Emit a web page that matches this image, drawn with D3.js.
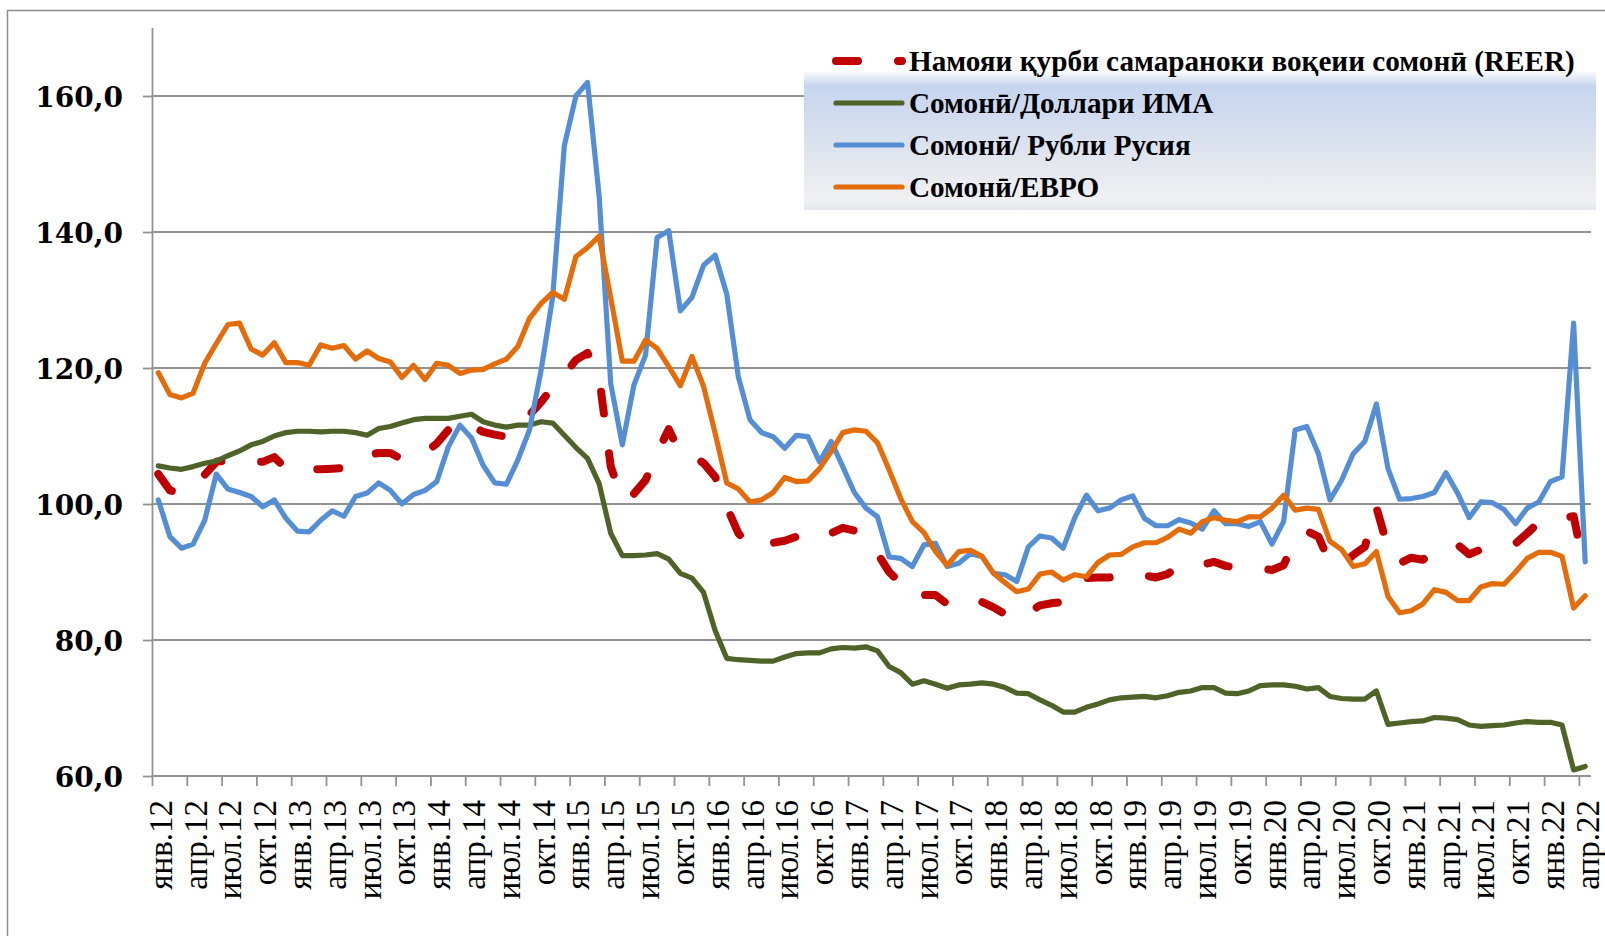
<!DOCTYPE html>
<html><head><meta charset="utf-8">
<script src="https://cdn.jsdelivr.net/npm/d3@7"></script>
<style>body{margin:0;background:#fff;overflow:hidden}svg{display:block}</style>
</head><body>
<svg id="chart" width="1605" height="936"></svg>
<script>
// ---- data ----
const monthNames = ["янв","фев","мар","апр","май","июн","июл","авг","сен","окт","ноя","дек"];
const years = ["12","13","14","15","16","17","18","19","20","21","22"];
const monthCount = 124; // янв.12 .. апр.22
const categories = [];
years.forEach(y => monthNames.forEach(m => { if (categories.length < monthCount) categories.push(m + "." + y); }));

const seriesNames = [
  "Намояи қурби самараноки воқеии сомонӣ (REER)",
  "Сомонӣ/Доллари ИМА",
  "Сомонӣ/ Рубли Русия",
  "Сомонӣ/ЕВРО"
];

const reer = [104.4,102.0,101.6,102.9,104.3,106.2,106.4,106.5,106.2,106.2,106.9,105.2,
105.0,105.1,105.1,105.2,105.3,106.3,107.2,107.5,107.5,106.6,107.0,107.5,
108.9,110.9,112.5,111.5,110.6,110.2,109.9,111.0,113.1,115.0,117.2,119.0,
121.2,122.2,118.7,105.5,100.6,101.5,103.5,107.5,111.0,107.4,107.2,106.0,
104.0,99.6,95.7,93.7,94.0,94.3,94.6,95.2,95.1,94.7,95.7,96.5,
96.1,94.7,92.7,90.0,88.3,86.4,86.6,86.6,85.3,86.1,86.1,85.6,
84.8,83.8,83.0,84.0,85.1,85.4,85.6,87.7,89.1,89.2,89.2,89.6,
89.8,89.5,89.2,89.7,90.9,90.9,91.1,91.5,90.9,90.6,90.4,90.5,
90.3,91.0,94.7,96.0,95.2,91.3,91.0,92.5,93.7,99.5,93.5,91.3,
92.1,91.8,93.1,93.7,94.0,92.6,93.3,93.5,93.6,94.2,95.7,97.3,
97.6,97.9,98.2,90.0];

const usd = [105.6,105.3,105.1,105.5,106.0,106.3,107.1,107.8,108.7,109.2,110.0,110.5,
110.7,110.7,110.6,110.7,110.7,110.5,110.1,111.1,111.4,111.9,112.4,112.6,
112.6,112.6,112.9,113.2,112.1,111.6,111.3,111.6,111.6,112.1,111.9,110.1,
108.3,106.7,103.0,95.7,92.4,92.4,92.5,92.7,91.9,89.8,89.1,87.0,
81.4,77.3,77.1,77.0,76.9,76.9,77.5,78.0,78.1,78.1,78.7,78.9,
78.8,79.0,78.4,76.1,75.2,73.5,74.0,73.5,72.9,73.4,73.5,73.7,
73.5,73.0,72.2,72.1,71.2,70.4,69.4,69.4,70.1,70.6,71.2,71.5,
71.6,71.7,71.5,71.8,72.3,72.5,73.0,73.0,72.2,72.1,72.5,73.3,
73.4,73.4,73.2,72.8,73.0,71.7,71.4,71.3,71.3,72.5,67.6,67.8,
68.0,68.1,68.6,68.5,68.3,67.5,67.3,67.4,67.5,67.8,68.0,67.9,
67.9,67.5,60.9,61.4];

const rub = [100.6,95.2,93.5,94.1,97.6,104.4,102.2,101.7,101.1,99.6,100.6,97.9,
96.0,95.9,97.6,99.0,98.2,101.1,101.6,103.1,102.0,100.0,101.4,102.0,
103.3,108.4,111.6,109.7,105.7,103.1,102.9,106.5,110.9,119.7,130.5,152.7,
160.0,162.0,145.3,117.7,108.7,117.5,121.9,139.2,140.2,128.4,130.4,135.1,
136.6,130.9,118.7,112.4,110.5,109.9,108.2,110.1,109.9,106.2,109.2,105.5,
101.7,99.4,98.1,92.2,92.0,90.8,94.0,94.2,90.8,91.3,92.7,92.3,
89.8,89.6,88.6,93.7,95.3,95.0,93.5,98.0,101.3,99.0,99.4,100.6,
101.2,97.9,96.8,96.8,97.7,97.2,96.3,99.0,97.1,97.1,96.7,97.4,
94.1,97.4,110.9,111.4,107.4,100.6,103.5,107.4,109.2,114.7,105.2,100.7,
100.8,101.1,101.7,104.6,101.6,98.0,100.3,100.2,99.2,97.1,99.4,100.3,
103.3,104.0,126.6,91.5];

const eur = [119.3,116.1,115.6,116.3,120.7,123.6,126.4,126.6,122.8,121.9,123.7,120.8,
120.8,120.4,123.4,122.9,123.3,121.3,122.5,121.4,120.9,118.6,120.4,118.3,
120.7,120.4,119.2,119.7,119.8,120.6,121.3,123.2,127.3,129.5,131.1,130.1,
136.4,137.7,139.4,130.3,121.0,121.0,124.1,122.9,120.2,117.4,121.7,117.3,
110.4,103.1,102.2,100.3,100.6,101.7,103.9,103.3,103.4,105.2,107.7,110.5,
110.9,110.7,109.0,105.0,100.8,97.4,95.8,93.0,91.0,93.0,93.2,92.3,
89.8,88.4,87.1,87.5,89.7,90.0,88.8,89.6,89.3,91.4,92.5,92.6,
93.7,94.3,94.3,95.1,96.3,95.7,97.4,98.0,97.6,97.4,98.1,98.1,
99.4,101.3,99.1,99.4,99.2,94.5,93.3,90.8,91.2,93.0,86.4,84.0,
84.3,85.3,87.4,87.0,85.8,85.8,87.8,88.3,88.2,90.0,92.0,92.9,
92.9,92.3,84.7,86.5];

const yTicks = [60, 80, 100, 120, 140, 160];
const yDomain = [60, 170];

// ---- styles ----
const colors = ["#C00000", "#4F6228", "#558ED5", "#E46C0A"];
const gridColor = "#929292";
const solidWidth = 5.2, dashWidth = 8;

const svg = d3.select("#chart");
const pL = 152.5, pR = 1591, pT = 28, pB = 776;

const x = d3.scaleBand().domain(categories).range([pL, pR]).paddingInner(0).paddingOuter(0);
const y = d3.scaleLinear().domain(yDomain).range([pB, pT]);
const bw = x.bandwidth();

// outer frame (cut by the picture edge)
svg.append("path").attr("d", "M7.5,936 V10.5 H1605")
  .attr("fill", "none").attr("stroke", "#8c8c8c").attr("stroke-width", 1.5);

// gridlines
svg.append("g").selectAll("line").data(yTicks).join("line")
  .attr("x1", pL).attr("x2", pR)
  .attr("y1", d => y(d)).attr("y2", d => y(d))
  .attr("stroke", gridColor).attr("stroke-width", 1.8);

// y axis
const fmt = d3.formatLocale({decimal: ",", thousands: " ", grouping: [3], currency: ["", ""]}).format(".1f");
const yAxis = d3.axisLeft(y).tickValues(yTicks).tickSize(9.5).tickPadding(20).tickFormat(fmt);
const gy = svg.append("g").attr("transform", `translate(${pL},0)`).call(yAxis);
gy.select(".domain").attr("stroke", gridColor).attr("stroke-width", 1.8)
  .attr("d", `M0,${pT}V${pB}`);
gy.selectAll(".tick line").attr("stroke", gridColor).attr("stroke-width", 1.8);
gy.selectAll(".tick text")
  .attr("font-family", "'DejaVu Serif', serif").attr("font-weight", "bold")
  .attr("font-size", 28).attr("fill", "#000").attr("dy", "0.36em");

// x axis
svg.append("line").attr("x1", pL).attr("x2", pR).attr("y1", pB).attr("y2", pB)
  .attr("stroke", gridColor).attr("stroke-width", 1.8);
const tickIdx = categories.map((c, i) => i).filter(i => i % 3 === 0);
svg.append("g").selectAll("line").data(tickIdx).join("line")
  .attr("x1", i => x(categories[i])).attr("x2", i => x(categories[i]))
  .attr("y1", pB).attr("y2", pB + 10)
  .attr("stroke", gridColor).attr("stroke-width", 1.8);
svg.append("g").selectAll("text").data(tickIdx).join("text")
  .attr("transform", i => `translate(${x(categories[i]) + bw / 2 + 2},800) rotate(-90)`)
  .attr("text-anchor", "end").attr("dy", "0.35em")
  .attr("font-family", "'Liberation Serif', 'DejaVu Serif', serif")
  .attr("font-size", 33).attr("fill", "#000")
  .text(i => categories[i]);

// series
const allSeries = [reer, usd, rub, eur];
const line = d3.line().x((d, i) => x(categories[i]) + bw / 2).y(d => y(d));
allSeries.forEach((s, k) => {
  const p = svg.append("path").datum(s).attr("d", line)
    .attr("fill", "none").attr("stroke", colors[k])
    .attr("stroke-linejoin", "round").attr("stroke-linecap", "round");
  if (k === 0) p.attr("stroke-width", dashWidth).attr("stroke-dasharray", "22,40");
  else p.attr("stroke-width", solidWidth);
});

// legend
const defs = svg.append("defs");
const grad = defs.append("linearGradient").attr("id", "lg").attr("x1", 0).attr("y1", 0).attr("x2", 0).attr("y2", 1);
[[0, "#f8fafd"], [0.1, "#c6d5ee"], [0.35, "#d2dcef"], [0.7, "#e5e8ee"], [0.93, "#f0f1f3"], [1, "#e2e6ed"]]
  .forEach(([o, c]) => grad.append("stop").attr("offset", o).attr("stop-color", c));
svg.append("rect").attr("x", 804).attr("y", 72).attr("width", 792).attr("height", 138).attr("fill", "url(#lg)");

const rowY = [61, 103, 145, 187];
const lg = svg.append("g");
seriesNames.forEach((name, k) => {
  const l = lg.append("line").attr("x1", 836).attr("x2", 902).attr("y1", rowY[k]).attr("y2", rowY[k])
    .attr("stroke", colors[k]).attr("stroke-linecap", "round");
  if (k === 0) l.attr("stroke-width", dashWidth).attr("stroke-dasharray", "22,40");
  else l.attr("stroke-width", solidWidth);
});
const texts = lg.selectAll("text").data(seriesNames).join("text")
  .attr("x", 909).attr("y", (d, k) => rowY[k]).attr("dy", "0.35em")
  .attr("font-family", "'Liberation Serif', 'DejaVu Serif', serif").attr("font-weight", "bold")
  .attr("font-size", 100).attr("fill", "#000").text(d => d);
const w0 = texts.nodes()[0].getComputedTextLength();
const fs = 100 * 666 / w0;
texts.attr("font-size", fs);
</script>
</body></html>
